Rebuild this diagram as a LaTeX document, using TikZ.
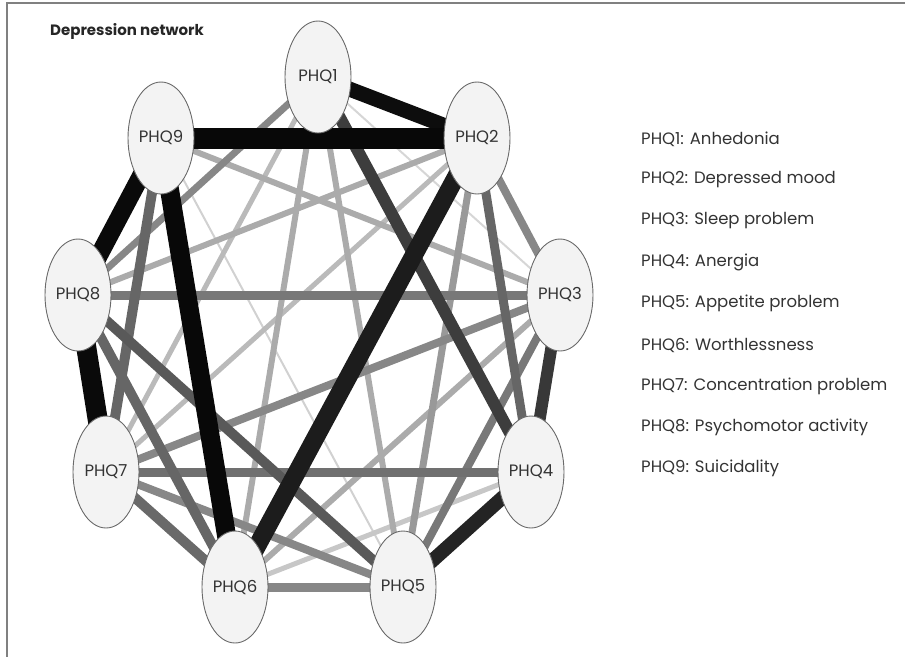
\documentclass[tikz,border=0pt]{standalone}
\usepackage{fontspec}
\setmainfont{Poppins}
\usetikzlibrary{shapes.geometric}
\pgfdeclarelayer{bg}
\pgfsetlayers{bg,main}
\definecolor{nodefill}{HTML}{F3F3F3}
\definecolor{nodeline}{HTML}{6A6A6A}
\definecolor{txt}{HTML}{333333}
\tikzset{
  phq/.style={ellipse, draw=nodeline, line width=0.9pt, fill=nodefill, minimum width=66pt, minimum height=112pt, inner sep=0pt, font=\fontsize{16.5}{18}\selectfont, text=txt},
  legend/.style={anchor=west, font=\fontsize{16.5}{18}\selectfont, text=txt, inner sep=0pt},
  ed/.style 2 args={draw=black!#1, line width=#2pt},
}
\begin{document}
\begin{tikzpicture}[x=1pt,y=-1pt]
\useasboundingbox (0,0) rectangle (905,657);
\draw[color=black!50, line width=1.5pt] (905,3) -- (7,3) -- (7,657);
\node[anchor=west, inner sep=0pt, font=\bfseries\fontsize{15}{17}\selectfont, text=black!85] (title) at (50,31) {Depression network};

\node[phq] (p1) at (318,77) {PHQ1};
\node[phq] (p2) at (477,138) {PHQ2};
\node[phq] (p3) at (560,295) {PHQ3};
\node[phq] (p4) at (531,472) {PHQ4};
\node[phq] (p5) at (403,587) {PHQ5};
\node[phq] (p6) at (235,587) {PHQ6};
\node[phq] (p7) at (106,472) {PHQ7};
\node[phq] (p8) at (78,295) {PHQ8};
\node[phq] (p9) at (161,138) {PHQ9};

\begin{pgfonlayer}{bg}
% light edges
\draw[ed={16}{2}] (p1.center) -- (p3.center);
\draw[ed={18}{2}] (p9.center) -- (p5.center);
\draw[ed={22}{5}] (p6.center) -- (p4.center);
\draw[ed={27}{5}] (p7.center) -- (p2.center);
\draw[ed={27}{5}] (p7.center) -- (p1.center);
\draw[ed={33}{6}] (p1.center) -- (p6.center);
\draw[ed={33}{6}] (p1.center) -- (p5.center);
\draw[ed={33}{6}] (p8.center) -- (p2.center);
\draw[ed={33}{6}] (p9.center) -- (p3.center);
\draw[ed={33}{6}] (p6.center) -- (p3.center);
\draw[ed={40}{7}] (p2.center) -- (p5.center);
% medium edges
\draw[ed={47}{7}] (p1.center) -- (p8.center);
\draw[ed={47}{8}] (p2.center) -- (p3.center);
\draw[ed={47}{8}] (p7.center) -- (p3.center);
\draw[ed={47}{8}] (p7.center) -- (p5.center);
\draw[ed={47}{9}] (p6.center) -- (p5.center);
\draw[ed={53}{8}] (p5.center) -- (p3.center);
\draw[ed={53}{9}] (p8.center) -- (p3.center);
\draw[ed={56}{9}] (p7.center) -- (p4.center);
\draw[ed={60}{9}] (p2.center) -- (p4.center);
\draw[ed={60}{10}] (p9.center) -- (p7.center);
\draw[ed={59}{10}] (p7.center) -- (p6.center);
\draw[ed={60}{10}] (p8.center) -- (p6.center);
\draw[ed={65}{10}] (p8.center) -- (p5.center);
% dark edges
\draw[ed={76}{12}] (p1.center) -- (p4.center);
\draw[ed={78}{12}] (p3.center) -- (p4.center);
\draw[ed={86}{14}] (p4.center) -- (p5.center);
\draw[ed={89}{18}] (p2.center) -- (p6.center);
\draw[ed={95}{15}] (p1.center) -- (p2.center);
\draw[ed={96}{18}] (p9.center) -- (p8.center);
\draw[ed={96}{20}] (p8.center) -- (p7.center);
\draw[ed={97}{19}] (p9.center) -- (p6.center);
\draw[ed={97}{21}] (p9.center) -- (p2.center);
\end{pgfonlayer}

\node[legend] (l1) at (641,139) {PHQ1: Anhedonia};
\node[legend] (l2) at (641,180) {PHQ2: Depressed mood};
\node[legend] (l3) at (641,221) {PHQ3: Sleep problem};
\node[legend] (l4) at (641,262) {PHQ4: Anergia};
\node[legend] (l5) at (641,303) {PHQ5: Appetite problem};
\node[legend] (l6) at (641,345) {PHQ6: Worthlessness};
\node[legend] (l7) at (641,386) {PHQ7: Concentration problem};
\node[legend] (l8) at (641,427) {PHQ8: Psychomotor activity};
\node[legend] (l9) at (641,468) {PHQ9: Suicidality};
\end{tikzpicture}
\end{document}
